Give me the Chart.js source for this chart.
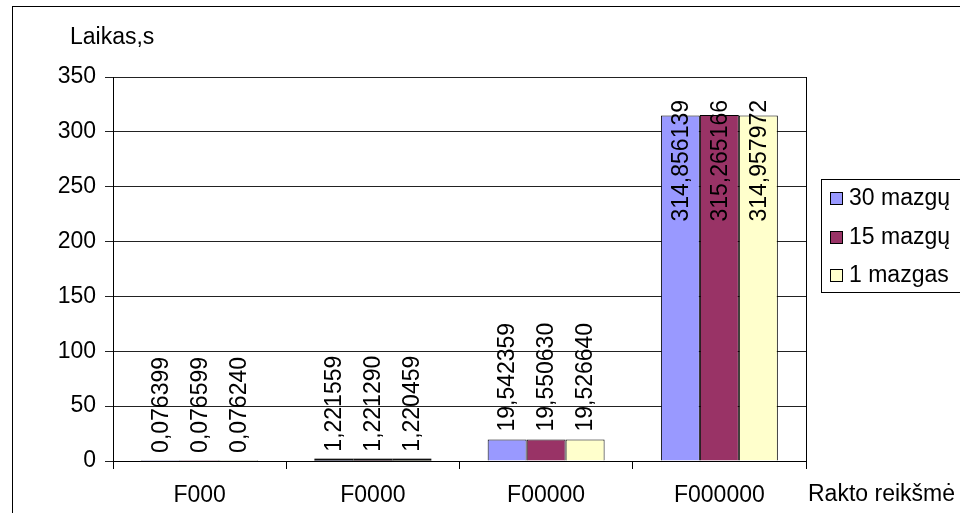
<!DOCTYPE html>
<html>
<head>
<meta charset="utf-8">
<script src="https://cdn.jsdelivr.net/npm/chart.js@4/dist/chart.umd.min.js"></script>
<style>
  html, body { margin: 0; padding: 0; background: #fff; }
  #wrap { width: 960px; height: 513px; position: relative; }
</style>
</head>
<body>
<div id="wrap"><canvas id="c" width="960" height="513"></canvas></div>
<script>
// Key lengths tested and timing per cluster size (seconds)
const categories = ['F000', 'F0000', 'F00000', 'F000000'];
const nodes30 = [0.076399, 1.221559, 19.542359, 314.856139];
const nodes15 = [0.076599, 1.221290, 19.550630, 315.265166];
const nodes1  = [0.076240, 1.220459, 19.526640, 314.957972];
const seriesNames = ['30 mazgų', '15 mazgų', '1 mazgas'];
const yTicks = [0, 50, 100, 150, 200, 250, 300, 350];
const yTitle = 'Laikas,s';
const xTitle = 'Rakto reikšmė';

const FONT = '"Liberation Sans", Arial, sans-serif';
const FS = 23;
const colors = ['#9999FF', '#993366', '#FFFFCC'];

const fmt = v => v.toFixed(6).replace('.', ',');

const decor = {
  id: 'decor',
  beforeDraw(chart) {
    const ctx = chart.ctx;
    ctx.save();
    ctx.fillStyle = '#fff';
    ctx.fillRect(0, 0, chart.width, chart.height);
    ctx.strokeStyle = '#000';
    ctx.lineWidth = 1;
    ctx.strokeRect(12.5, 6.5, chart.width + 20, chart.height + 20);
    ctx.restore();
  },
  afterDatasetsDraw(chart) {
    const ctx = chart.ctx;
    const area = chart.chartArea;
    ctx.save();
    // right edge of the plot area
    ctx.strokeStyle = '#000';
    ctx.lineWidth = 1;
    ctx.beginPath();
    ctx.moveTo(Math.round(area.right) + 0.5, area.top);
    ctx.lineTo(Math.round(area.right) + 0.5, area.bottom);
    ctx.stroke();

    // very short bars still get a visible outline
    chart.data.datasets.forEach((ds, di) => {
      const meta = chart.getDatasetMeta(di);
      meta.data.forEach(bar => {
        const h = bar.base - bar.y;
        if (h > 0.5 && h < 4) {
          ctx.fillStyle = '#111';
          ctx.fillRect(bar.x - bar.width / 2, bar.y - 1, bar.width, bar.base - bar.y + 1);
        }
      });
    });

    // vertical value labels above each bar
    ctx.font = FS + 'px ' + FONT;
    ctx.fillStyle = '#000';
    ctx.textAlign = 'left';
    ctx.textBaseline = 'middle';
    const limitTop = area.top + 23;
    chart.data.datasets.forEach((ds, di) => {
      const meta = chart.getDatasetMeta(di);
      meta.data.forEach((bar, i) => {
        const txt = fmt(ds.data[i]);
        const w = ctx.measureText(txt).width;
        let start = bar.y - 8;
        if (start - w < limitTop) start = limitTop + w;
        ctx.save();
        ctx.translate(bar.x, start);
        ctx.rotate(-Math.PI / 2);
        ctx.fillText(txt, 0, 1);
        ctx.restore();
      });
    });

    // axis titles
    ctx.textBaseline = 'middle';
    ctx.textAlign = 'left';
    ctx.fillText(yTitle, 70, 38);
    ctx.fillText(xTitle, 808, 495);

    // legend
    const lx = 821, ly = 179, lw = 140, lh = 113;
    ctx.fillStyle = '#fff';
    ctx.fillRect(lx, ly, lw, lh);
    ctx.strokeStyle = '#000';
    ctx.strokeRect(lx + 0.5, ly + 0.5, lw, lh);
    chart.data.datasets.forEach((ds, di) => {
      const cy = 198 + di * 38.5;
      ctx.fillStyle = ds.backgroundColor;
      ctx.fillRect(830, Math.round(cy - 6), 12, 12);
      ctx.strokeStyle = '#000';
      ctx.strokeRect(830.5, Math.round(cy - 6) + 0.5, 12, 12);
      ctx.fillStyle = '#000';
      ctx.fillText(ds.label, 849, cy + 1);
    });
    ctx.restore();
  }
};

new Chart(document.getElementById('c'), {
  type: 'bar',
  data: {
    labels: categories,
    datasets: [nodes30, nodes15, nodes1].map((d, i) => ({
      label: seriesNames[i],
      data: d,
      backgroundColor: colors[i],
      borderColor: '#000',
      borderWidth: 1,
      categoryPercentage: 0.675,
      barPercentage: 1
    }))
  },
  options: {
    responsive: false,
    animation: false,
    devicePixelRatio: 1,
    layout: { padding: { left: 0, right: 154, top: 77, bottom: 0 } },
    plugins: { legend: { display: false }, tooltip: { enabled: false }, title: { display: false } },
    scales: {
      x: {
        afterFit(s) { s.height = 52; },
        grid: { display: true, drawOnChartArea: false, drawTicks: true, tickLength: 8, color: '#000', offset: true },
        border: { display: true, color: '#000', width: 1 },
        ticks: { color: '#000', font: { family: FONT, size: FS }, padding: 13, maxRotation: 0 }
      },
      y: {
        min: 0,
        max: 350,
        afterFit(s) { s.width = 113; },
        afterBuildTicks(s) { s.ticks = yTicks.map(v => ({ value: v })); },
        grid: { color: '#222', tickLength: 8, drawTicks: true },
        border: { display: true, color: '#000', width: 1 },
        ticks: { color: '#000', font: { family: FONT, size: FS }, padding: 9 }
      }
    }
  },
  plugins: [decor]
});
</script>
</body>
</html>
